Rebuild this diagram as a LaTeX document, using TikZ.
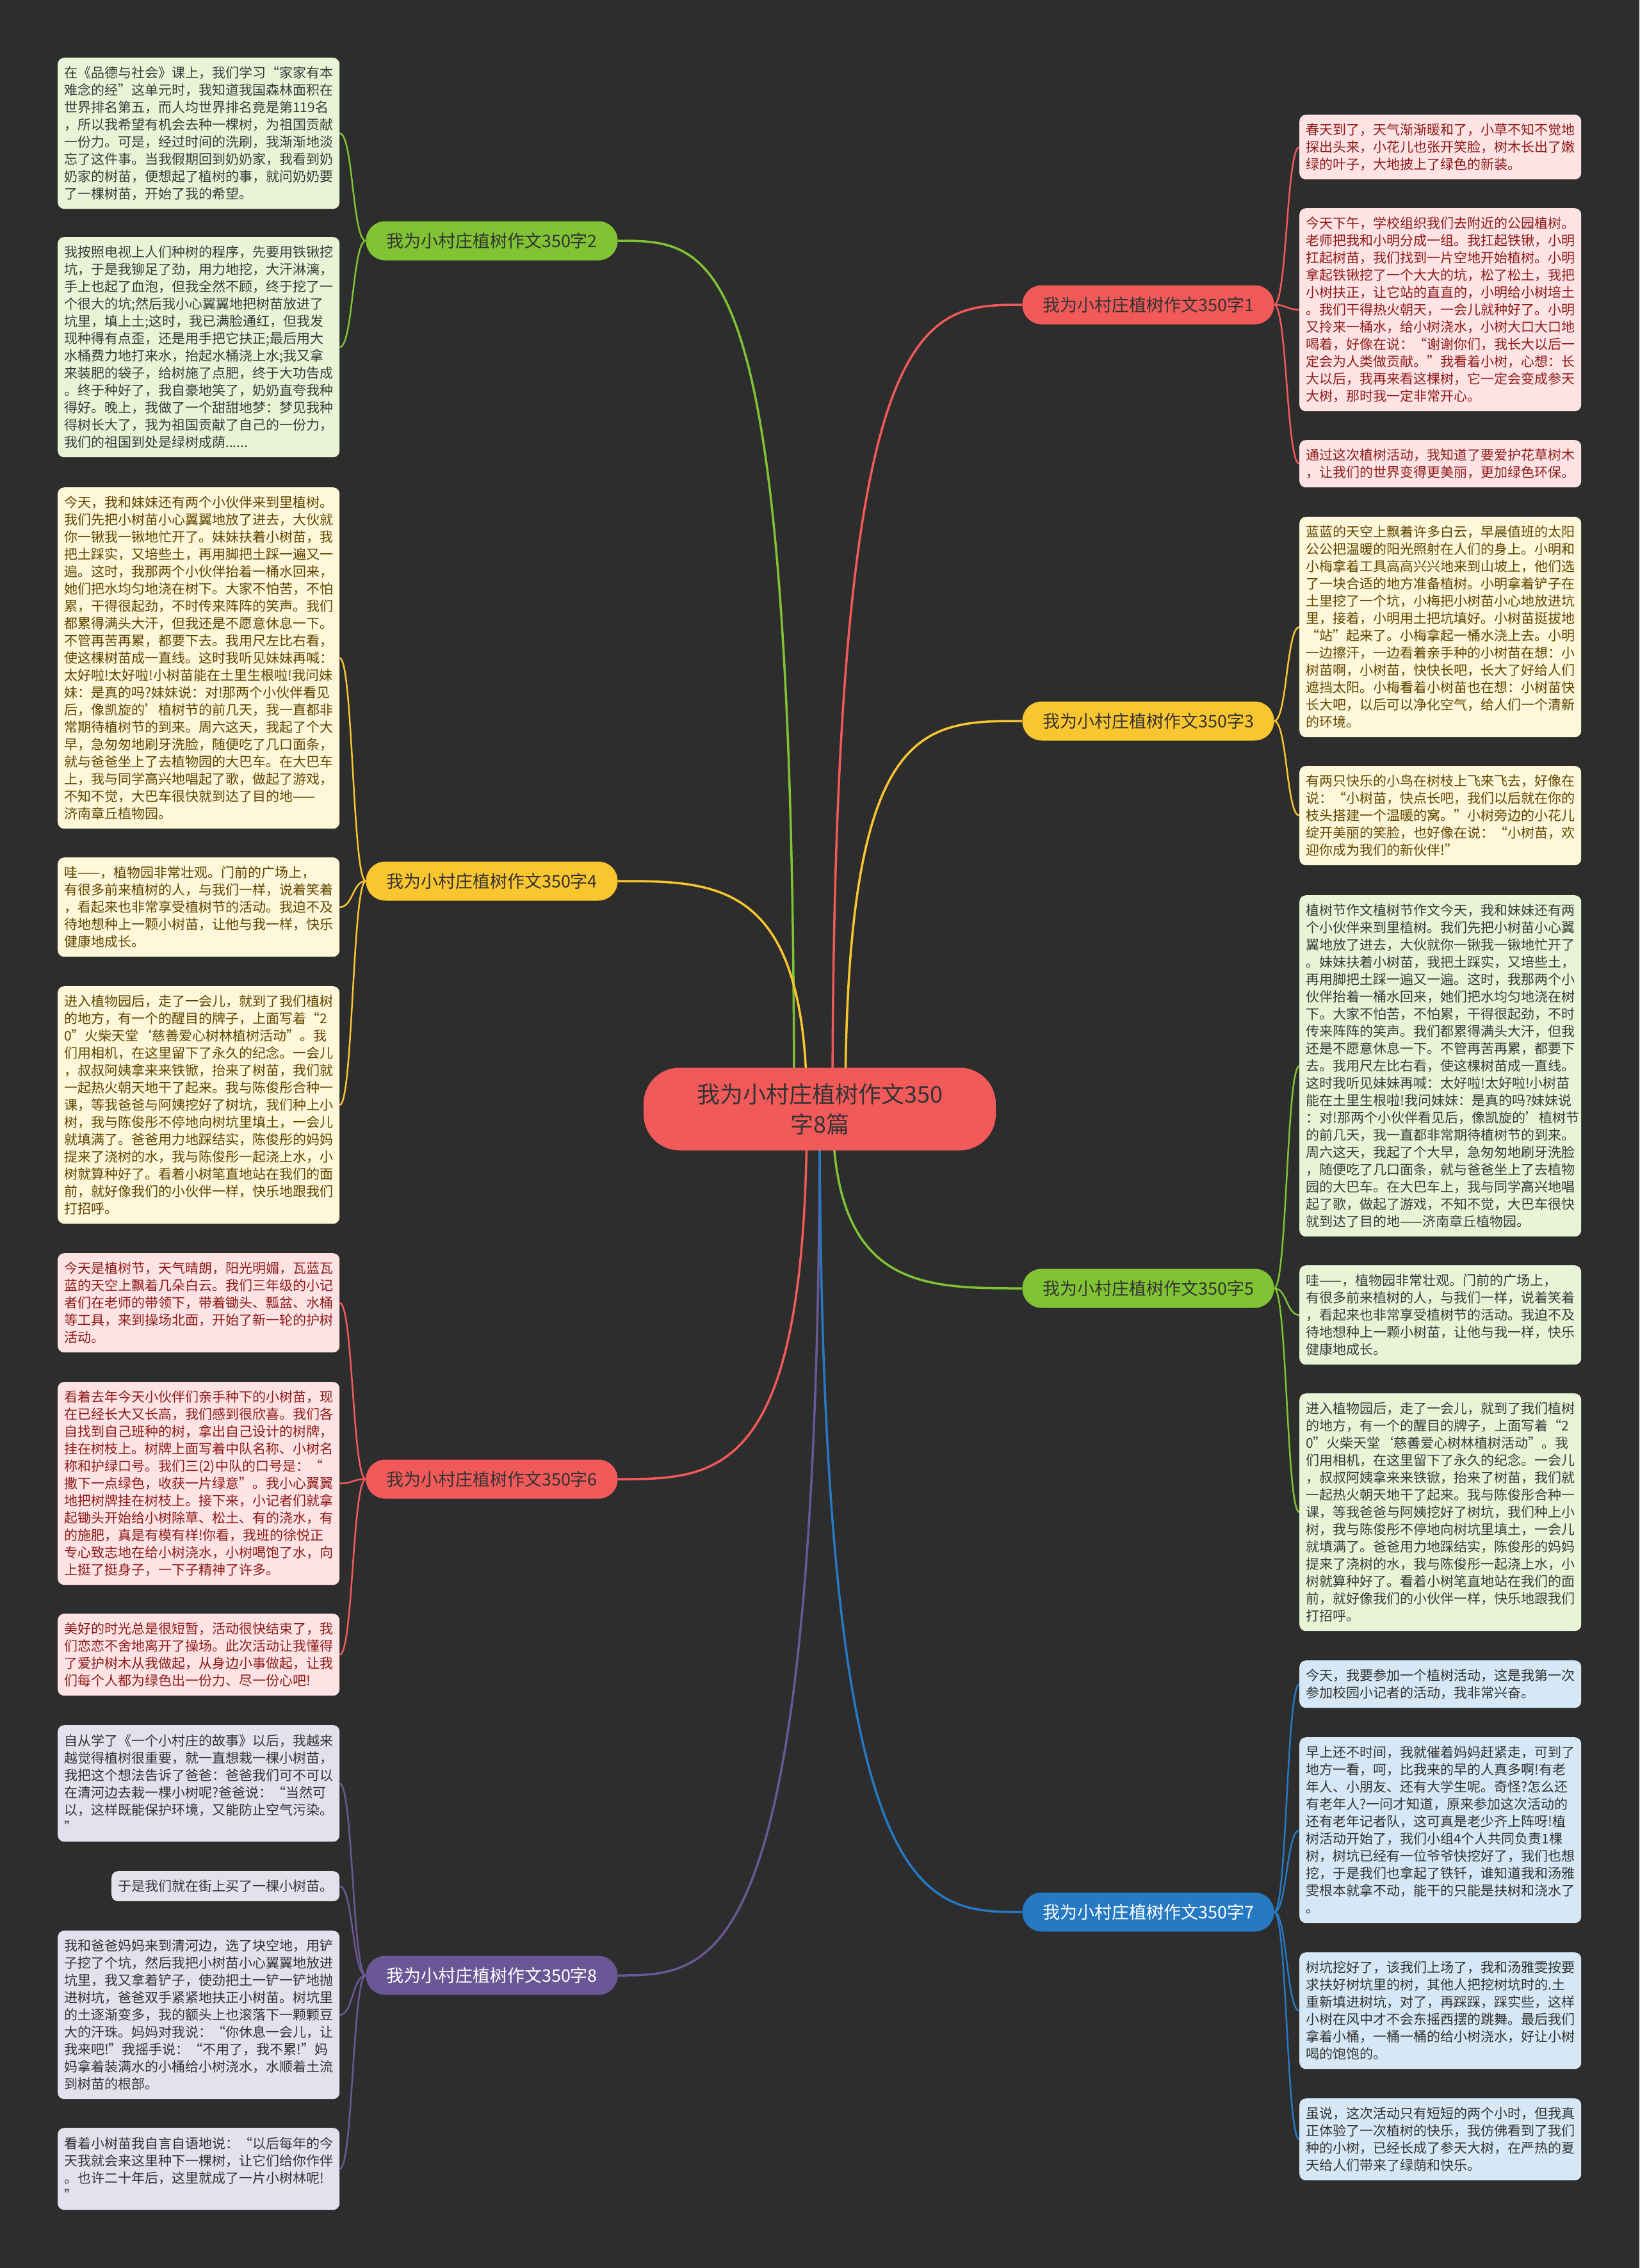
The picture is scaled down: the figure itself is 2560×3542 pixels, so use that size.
\documentclass[tikz,border=0pt]{standalone}
\usepackage{fontspec}
\setmainfont{Noto Sans CJK SC}
\usetikzlibrary{calc}
\definecolor{bgc}{HTML}{2D2D2D}
\definecolor{cred}{HTML}{F25A5A}
\definecolor{cgreen}{HTML}{80C434}
\definecolor{cyellow}{HTML}{FAC630}
\definecolor{cpurple}{HTML}{6A5896}
\definecolor{cblue}{HTML}{267AC4}
\definecolor{fgreen}{HTML}{E9F4D7}
\definecolor{fyellow}{HTML}{FEF7D9}
\definecolor{fpink}{HTML}{FDE3E3}
\definecolor{fpurple}{HTML}{E4E1EE}
\definecolor{fblue}{HTML}{D6E8F5}
\definecolor{tgreen}{HTML}{3A3A3A}
\definecolor{tyellow}{HTML}{5E4500}
\definecolor{tpink}{HTML}{8E1B1B}
\definecolor{tdark}{HTML}{333333}
\pgfdeclarelayer{back}\pgfdeclarelayer{edges}\pgfsetlayers{back,edges,main}
\newcommand\lf[6]{\node[#5,minimum height={27*#4+20},anchor=north west] (#1) at (#2,#3) {#6};}
\newcommand\lkl[3]{\draw[#3] (#1.west) .. controls ([xshift=-21pt]#1.west) and ([xshift=21pt]#2.east) .. (#2.east);}
\newcommand\lkr[3]{\draw[#3] (#1.east) .. controls ([xshift=20pt]#1.east) and ([xshift=-20pt]#2.west) .. (#2.west);}
\newcommand\ck[4]{\draw[#4] ($(C.center)+(#3,0)$) .. controls ($(C.center |- #1.#2)+(#3,0)$) and ($(C.center |- #1.#2)!0.5!(#1.#2)$) .. (#1.#2);}
\begin{document}
\begin{tikzpicture}[x=1pt,y=-1pt,
  leaf/.style={rectangle,rounded corners=10pt,inner xsep=10pt,inner ysep=4pt,text width=420pt,align=left,font=\fontsize{21}{27}\selectfont},
  lgreen/.style={leaf,fill=fgreen,text=tgreen},
  lyellow/.style={leaf,fill=fyellow,text=tyellow},
  lpink/.style={leaf,fill=fpink,text=tpink},
  lpurple/.style={leaf,fill=fpurple,text=tdark},
  lblue/.style={leaf,fill=fblue,text=tdark},
  branch/.style={rectangle,rounded corners=30pt,minimum width=393pt,minimum height=61pt,inner sep=0pt,font=\fontsize{27}{32}\selectfont},
  central/.style={rectangle,rounded corners=56pt,minimum width=550pt,minimum height=129pt,inner sep=0pt,align=center,fill=cred,text=tdark,font=\fontsize{36}{47}\selectfont},
  main/.style={line width=3.5pt},
  sub/.style={line width=2.5pt}
]
\begin{pgfonlayer}{back}
\fill[bgc] (0,0) rectangle (2560,3542);
\end{pgfonlayer}
\useasboundingbox (0,0) rectangle (2560,3542);

\node[central] (C) at (1280,1732) {我为小村庄植树作文350\\字8篇};

\node[branch,fill=cgreen,text=tdark] (b2) at (768,376) {我为小村庄植树作文350字2};
\node[branch,fill=cyellow,text=tdark] (b4) at (768,1376) {我为小村庄植树作文350字4};
\node[branch,fill=cred,text=tdark] (b6) at (768,2310) {我为小村庄植树作文350字6};
\node[branch,fill=cpurple,text=white] (b8) at (768,3085) {我为小村庄植树作文350字8};
\node[branch,fill=cred,text=tdark] (b1) at (1793,476) {我为小村庄植树作文350字1};
\node[branch,fill=cyellow,text=tdark] (b3) at (1793,1126) {我为小村庄植树作文350字3};
\node[branch,fill=cgreen,text=tdark] (b5) at (1793,2012) {我为小村庄植树作文350字5};
\node[branch,fill=cblue,text=white] (b7) at (1793,2986) {我为小村庄植树作文350字7};

% left leaves
\lf{L1}{90}{90}{8}{lgreen}{在《品德与社会》课上，我们学习“家家有本\\难念的经”这单元时，我知道我国森林面积在\\世界排名第五，而人均世界排名竟是第119名\\，所以我希望有机会去种一棵树，为祖国贡献\\一份力。可是，经过时间的洗刷，我渐渐地淡\\忘了这件事。当我假期回到奶奶家，我看到奶\\奶家的树苗，便想起了植树的事，就问奶奶要\\了一棵树苗，开始了我的希望。}
\lf{L2}{90}{370}{12}{lgreen}{我按照电视上人们种树的程序，先要用铁锹挖\\坑，于是我铆足了劲，用力地挖，大汗淋漓，\\手上也起了血泡，但我全然不顾，终于挖了一\\个很大的坑;然后我小心翼翼地把树苗放进了\\坑里，填上土;这时，我已满脸通红，但我发\\现种得有点歪，还是用手把它扶正;最后用大\\水桶费力地打来水，抬起水桶浇上水;我又拿\\来装肥的袋子，给树施了点肥，终于大功告成\\。终于种好了，我自豪地笑了，奶奶直夸我种\\得好。晚上，我做了一个甜甜地梦：梦见我种\\得树长大了，我为祖国贡献了自己的一份力，\\我们的祖国到处是绿树成荫......}
\lf{L3}{90}{761}{19}{lyellow}{今天，我和妹妹还有两个小伙伴来到里植树。\\我们先把小树苗小心翼翼地放了进去，大伙就\\你一锹我一锹地忙开了。妹妹扶着小树苗，我\\把土踩实，又培些土，再用脚把土踩一遍又一\\遍。这时，我那两个小伙伴抬着一桶水回来，\\她们把水均匀地浇在树下。大家不怕苦，不怕\\累，干得很起劲，不时传来阵阵的笑声。我们\\都累得满头大汗，但我还是不愿意休息一下。\\不管再苦再累，都要下去。我用尺左比右看，\\使这棵树苗成一直线。这时我听见妹妹再喊：\\太好啦!太好啦!小树苗能在土里生根啦!我问妹\\妹：是真的吗?妹妹说：对!那两个小伙伴看见\\后，像凯旋的'植树节的前几天，我一直都非\\常期待植树节的到来。周六这天，我起了个大\\早，急匆匆地刷牙洗脸，随便吃了几口面条，\\就与爸爸坐上了去植物园的大巴车。在大巴车\\上，我与同学高兴地唱起了歌，做起了游戏，\\不知不觉，大巴车很快就到达了目的地——\\济南章丘植物园。}
\lf{L4}{90}{1339}{5}{lyellow}{哇——，植物园非常壮观。门前的广场上，\\有很多前来植树的人，与我们一样，说着笑着\\，看起来也非常享受植树节的活动。我迫不及\\待地想种上一颗小树苗，让他与我一样，快乐\\健康地成长。}
\lf{L5}{90}{1540}{13}{lyellow}{进入植物园后，走了一会儿，就到了我们植树\\的地方，有一个的醒目的牌子，上面写着“2\\0”火柴天堂‘慈善爱心树林植树活动”。我\\们用相机，在这里留下了永久的纪念。一会儿\\，叔叔阿姨拿来来铁锨，抬来了树苗，我们就\\一起热火朝天地干了起来。我与陈俊彤合种一\\课，等我爸爸与阿姨挖好了树坑，我们种上小\\树，我与陈俊彤不停地向树坑里填土，一会儿\\就填满了。爸爸用力地踩结实，陈俊彤的妈妈\\提来了浇树的水，我与陈俊彤一起浇上水，小\\树就算种好了。看着小树笔直地站在我们的面\\前，就好像我们的小伙伴一样，快乐地跟我们\\打招呼。}
\lf{L6}{90}{1957}{5}{lpink}{今天是植树节，天气晴朗，阳光明媚，瓦蓝瓦\\蓝的天空上飘着几朵白云。我们三年级的小记\\者们在老师的带领下，带着锄头、瓢盆、水桶\\等工具，来到操场北面，开始了新一轮的护树\\活动。}
\lf{L7}{90}{2158}{11}{lpink}{看着去年今天小伙伴们亲手种下的小树苗，现\\在已经长大又长高，我们感到很欣喜。我们各\\自找到自己班种的树，拿出自己设计的树牌，\\挂在树枝上。树牌上面写着中队名称、小树名\\称和护绿口号。我们三(2)中队的口号是：“\\撒下一点绿色，收获一片绿意”。我小心翼翼\\地把树牌挂在树枝上。接下来，小记者们就拿\\起锄头开始给小树除草、松土、有的浇水，有\\的施肥，真是有模有样!你看，我班的徐悦正\\专心致志地在给小树浇水，小树喝饱了水，向\\上挺了挺身子，一下子精神了许多。}
\lf{L8}{90}{2520}{4}{lpink}{美好的时光总是很短暂，活动很快结束了，我\\们恋恋不舍地离开了操场。此次活动让我懂得\\了爱护树木从我做起，从身边小事做起，让我\\们每个人都为绿色出一份力、尽一份心吧!}
\lf{L9}{90}{2694}{6}{lpurple}{自从学了《一个小村庄的故事》以后，我越来\\越觉得植树很重要，就一直想栽一棵小树苗，\\我把这个想法告诉了爸爸：爸爸我们可不可以\\在清河边去栽一棵小树呢?爸爸说：“当然可\\以，这样既能保护环境，又能防止空气污染。\\”}
\lf{L10}{174}{2922}{1}{lpurple,text width=336pt}{于是我们就在街上买了一棵小树苗。}
\lf{L11}{90}{3015}{9}{lpurple}{我和爸爸妈妈来到清河边，选了块空地，用铲\\子挖了个坑，然后我把小树苗小心翼翼地放进\\坑里，我又拿着铲子，使劲把土一铲一铲地抛\\进树坑，爸爸双手紧紧地扶正小树苗。树坑里\\的土逐渐变多，我的额头上也滚落下一颗颗豆\\大的汗珠。妈妈对我说：“你休息一会儿，让\\我来吧!”我摇手说：“不用了，我不累!”妈\\妈拿着装满水的小桶给小树浇水，水顺着土流\\到树苗的根部。}
\lf{L12}{90}{3323}{4}{lpurple}{看着小树苗我自言自语地说：“以后每年的今\\天我就会来这里种下一棵树，让它们给你作伴\\。也许二十年后，这里就成了一片小树林呢!\\”}

% right leaves
\lf{R1}{2029}{179}{3}{lpink}{春天到了，天气渐渐暖和了，小草不知不觉地\\探出头来，小花儿也张开笑脸，树木长出了嫩\\绿的叶子，大地披上了绿色的新装。}
\lf{R2}{2029}{325}{11}{lpink}{今天下午，学校组织我们去附近的公园植树。\\老师把我和小明分成一组。我扛起铁锹，小明\\扛起树苗，我们找到一片空地开始植树。小明\\拿起铁锹挖了一个大大的坑，松了松土，我把\\小树扶正，让它站的直直的，小明给小树培土\\。我们干得热火朝天，一会儿就种好了。小明\\又拎来一桶水，给小树浇水，小树大口大口地\\喝着，好像在说：“谢谢你们，我长大以后一\\定会为人类做贡献。”我看着小树，心想：长\\大以后，我再来看这棵树，它一定会变成参天\\大树，那时我一定非常开心。}
\lf{R3}{2029}{687}{2}{lpink}{通过这次植树活动，我知道了要爱护花草树木\\，让我们的世界变得更美丽，更加绿色环保。}
\lf{R4}{2029}{807}{12}{lyellow}{蓝蓝的天空上飘着许多白云，早晨值班的太阳\\公公把温暖的阳光照射在人们的身上。小明和\\小梅拿着工具高高兴兴地来到山坡上，他们选\\了一块合适的地方准备植树。小明拿着铲子在\\土里挖了一个坑，小梅把小树苗小心地放进坑\\里，接着，小明用土把坑填好。小树苗挺拔地\\“站”起来了。小梅拿起一桶水浇上去。小明\\一边擦汗，一边看着亲手种的小树苗在想：小\\树苗啊，小树苗，快快长吧，长大了好给人们\\遮挡太阳。小梅看着小树苗也在想：小树苗快\\长大吧，以后可以净化空气，给人们一个清新\\的环境。}
\lf{R5}{2029}{1196}{5}{lyellow}{有两只快乐的小鸟在树枝上飞来飞去，好像在\\说：“小树苗，快点长吧，我们以后就在你的\\枝头搭建一个温暖的窝。”小树旁边的小花儿\\绽开美丽的笑脸，也好像在说：“小树苗，欢\\迎你成为我们的新伙伴!”}
\lf{R6}{2029}{1398}{19}{lgreen}{植树节作文植树节作文今天，我和妹妹还有两\\个小伙伴来到里植树。我们先把小树苗小心翼\\翼地放了进去，大伙就你一锹我一锹地忙开了\\。妹妹扶着小树苗，我把土踩实，又培些土，\\再用脚把土踩一遍又一遍。这时，我那两个小\\伙伴抬着一桶水回来，她们把水均匀地浇在树\\下。大家不怕苦，不怕累，干得很起劲，不时\\传来阵阵的笑声。我们都累得满头大汗，但我\\还是不愿意休息一下。不管再苦再累，都要下\\去。我用尺左比右看，使这棵树苗成一直线。\\这时我听见妹妹再喊：太好啦!太好啦!小树苗\\能在土里生根啦!我问妹妹：是真的吗?妹妹说\\：对!那两个小伙伴看见后，像凯旋的'植树节\\的前几天，我一直都非常期待植树节的到来。\\周六这天，我起了个大早，急匆匆地刷牙洗脸\\，随便吃了几口面条，就与爸爸坐上了去植物\\园的大巴车。在大巴车上，我与同学高兴地唱\\起了歌，做起了游戏，不知不觉，大巴车很快\\就到达了目的地——济南章丘植物园。}
\lf{R7}{2029}{1976}{5}{lgreen}{哇——，植物园非常壮观。门前的广场上，\\有很多前来植树的人，与我们一样，说着笑着\\，看起来也非常享受植树节的活动。我迫不及\\待地想种上一颗小树苗，让他与我一样，快乐\\健康地成长。}
\lf{R8}{2029}{2176}{13}{lgreen}{进入植物园后，走了一会儿，就到了我们植树\\的地方，有一个的醒目的牌子，上面写着“2\\0”火柴天堂‘慈善爱心树林植树活动”。我\\们用相机，在这里留下了永久的纪念。一会儿\\，叔叔阿姨拿来来铁锨，抬来了树苗，我们就\\一起热火朝天地干了起来。我与陈俊彤合种一\\课，等我爸爸与阿姨挖好了树坑，我们种上小\\树，我与陈俊彤不停地向树坑里填土，一会儿\\就填满了。爸爸用力地踩结实，陈俊彤的妈妈\\提来了浇树的水，我与陈俊彤一起浇上水，小\\树就算种好了。看着小树笔直地站在我们的面\\前，就好像我们的小伙伴一样，快乐地跟我们\\打招呼。}
\lf{R9}{2029}{2593}{2}{lblue}{今天，我要参加一个植树活动，这是我第一次\\参加校园小记者的活动，我非常兴奋。}
\lf{R10}{2029}{2713}{10}{lblue}{早上还不时间，我就催着妈妈赶紧走，可到了\\地方一看，呵，比我来的早的人真多啊!有老\\年人、小朋友、还有大学生呢。奇怪?怎么还\\有老年人?一问才知道，原来参加这次活动的\\还有老年记者队，这可真是老少齐上阵呀!植\\树活动开始了，我们小组4个人共同负责1棵\\树，树坑已经有一位爷爷快挖好了，我们也想\\挖，于是我们也拿起了铁钎，谁知道我和汤雅\\雯根本就拿不动，能干的只能是扶树和浇水了\\。}
\lf{R11}{2029}{3049}{6}{lblue}{树坑挖好了，该我们上场了，我和汤雅雯按要\\求扶好树坑里的树，其他人把挖树坑时的.土\\重新填进树坑，对了，再踩踩，踩实些，这样\\小树在风中才不会东摇西摆的跳舞。最后我们\\拿着小桶，一桶一桶的给小树浇水，好让小树\\喝的饱饱的。}
\lf{R12}{2029}{3277}{4}{lblue}{虽说，这次活动只有短短的两个小时，但我真\\正体验了一次植树的快乐，我仿佛看到了我们\\种的小树，已经长成了参天大树，在严热的夏\\天给人们带来了绿荫和快乐。}

\begin{pgfonlayer}{edges}
\ck{b2}{east}{-40}{main,cgreen}
\ck{b4}{east}{-20}{main,cyellow}
\ck{b6}{east}{-20}{main,cred}
\ck{b8}{east}{0}{main,cpurple}
\ck{b1}{west}{20}{main,cred}
\ck{b3}{west}{40}{main,cyellow}
\ck{b5}{west}{20}{main,cgreen}
\ck{b7}{west}{0}{main,cblue}
\lkl{b2}{L1}{sub,cgreen}
\lkl{b2}{L2}{sub,cgreen}
\lkl{b4}{L3}{sub,cyellow}
\lkl{b4}{L4}{sub,cyellow}
\lkl{b4}{L5}{sub,cyellow}
\lkl{b6}{L6}{sub,cred}
\lkl{b6}{L7}{sub,cred}
\lkl{b6}{L8}{sub,cred}
\lkl{b8}{L9}{sub,cpurple}
\lkl{b8}{L10}{sub,cpurple}
\lkl{b8}{L11}{sub,cpurple}
\lkl{b8}{L12}{sub,cpurple}
\lkr{b1}{R1}{sub,cred}
\lkr{b1}{R2}{sub,cred}
\lkr{b1}{R3}{sub,cred}
\lkr{b3}{R4}{sub,cyellow}
\lkr{b3}{R5}{sub,cyellow}
\lkr{b5}{R6}{sub,cgreen}
\lkr{b5}{R7}{sub,cgreen}
\lkr{b5}{R8}{sub,cgreen}
\lkr{b7}{R9}{sub,cblue}
\lkr{b7}{R10}{sub,cblue}
\lkr{b7}{R11}{sub,cblue}
\lkr{b7}{R12}{sub,cblue}
\end{pgfonlayer}
\end{tikzpicture}
\end{document}
